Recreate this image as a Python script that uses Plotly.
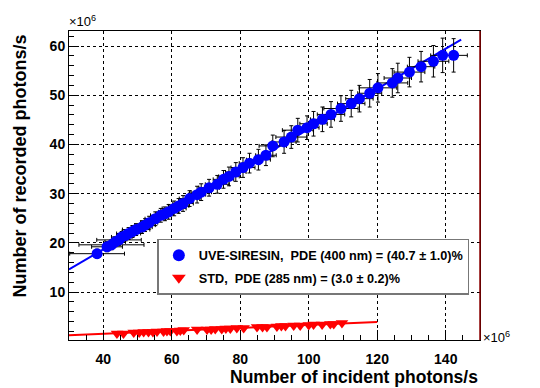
import plotly.graph_objects as go

# UVE-SIRESIN measurement (units of 1e6 photons/s)
uve_x = [38.2, 41.1, 42.4, 43.5, 44.6, 45.4, 46.5, 47.4, 48.5, 49.6,
         51.3, 52.2, 53.4, 55.2, 56.8, 58.0, 59.1, 60.7, 62.0, 63.3,
         65.2, 67.4, 68.6, 70.9, 73.3, 75.1, 76.7, 78.7, 80.8, 82.7,
         85.3, 87.5, 89.5, 92.8, 94.9, 96.8, 99.5, 101.4, 104.0, 106.5,
         109.4, 112.4, 114.8, 117.8, 120.2, 124.4, 126.0, 129.4, 132.8, 136.4,
         139.1, 142.3]
uve_y = [17.8, 19.2, 19.6, 20.2, 20.6, 21.2, 21.5, 21.9, 22.3, 22.7,
         23.2, 23.6, 24.1, 24.9, 25.6, 25.9, 26.3, 27.0, 27.5, 28.0,
         29.0, 29.8, 30.3, 31.2, 31.9, 32.9, 33.5, 34.4, 35.3, 36.2,
         36.9, 37.8, 39.7, 40.5, 41.5, 42.9, 43.4, 44.2, 45.1, 46.1,
         47.3, 48.3, 49.3, 50.4, 51.5, 52.5, 53.5, 54.7, 55.8, 56.9,
         58.1, 58.1]
uve_ex = [8.0, 4.5, 9.5, 3.0, 6.5, 3.0, 2.5, 3.5, 3.0, 4.0,
          3.0, 3.0, 2.5, 3.0, 3.0, 2.5, 3.0, 3.5, 3.0, 3.0,
          3.0, 2.5, 3.0, 3.0, 3.5, 3.0, 3.0, 3.0, 3.5, 3.0,
          3.5, 3.0, 4.0, 3.5, 4.5, 4.5, 3.5, 4.0, 3.5, 4.0,
          5.0, 4.0, 4.0, 3.5, 5.5, 4.5, 4.0, 4.5, 4.0, 4.5,
          3.5, 4.0]
uve_ey = [0.9, 1.0, 1.0, 1.0, 1.1, 1.1, 1.1, 1.2, 1.2, 1.2,
          1.3, 1.3, 1.3, 1.4, 1.4, 1.4, 1.5, 1.5, 1.5, 1.6,
          1.6, 1.7, 1.7, 1.7, 1.8, 1.8, 1.9, 1.9, 2.0, 2.0,
          2.1, 2.1, 2.2, 2.3, 2.3, 2.4, 2.4, 2.5, 2.5, 2.6,
          2.6, 2.7, 2.7, 2.8, 2.9, 2.9, 3.0, 3.0, 3.1, 3.2,
          3.5, 3.4]

# STD measurement
std_x = [44.0, 45.9, 48.9, 50.5, 51.8, 53.2, 54.5, 55.7, 57.6, 58.6,
         59.6, 61.5, 62.5, 63.5, 67.4, 70.3, 71.5, 72.7, 74.6, 75.8,
         77.1, 79.0, 81.0, 84.9, 86.5, 87.8, 90.7, 92.0, 93.2, 95.6,
         97.5, 100.0, 101.4, 103.9, 106.3, 107.3, 109.7]
std_y = [1.6, 1.6, 1.8, 1.8, 1.9, 1.9, 1.9, 2.0, 2.0, 2.1,
         2.1, 2.1, 2.2, 2.3, 2.4, 2.4, 2.4, 2.5, 2.5, 2.6,
         2.6, 2.7, 2.7, 2.9, 2.9, 2.9, 3.0, 3.1, 3.1, 3.2,
         3.2, 3.3, 3.4, 3.4, 3.5, 3.5, 3.7]

# linear fits (end points)
uve_fit_x = [30, 144.5]
uve_fit_y = [14.6, 61.3]
std_fit_x = [30, 120]
std_fit_y = [1.22, 3.92]

uve_label = "UVE-SIRESIN,\u00a0 PDE (400 nm) = (40.7 ± 1.0)%"
std_label = "STD,\u00a0 PDE (285 nm) = (3.0 ± 0.2)%"

FONT = "Liberation Sans, Arial, Helvetica, sans-serif"

fig = go.Figure()

fig.add_trace(go.Scatter(
    x=uve_fit_x, y=uve_fit_y, mode='lines',
    line=dict(color='#0000ff', width=2), showlegend=False, hoverinfo='skip'
))
fig.add_trace(go.Scatter(
    x=std_fit_x, y=std_fit_y, mode='lines',
    line=dict(color='#ff0000', width=2), showlegend=False, hoverinfo='skip'
))

fig.add_trace(go.Scatter(
    x=uve_x, y=uve_y, mode='markers', name=uve_label, legendgroup='a',
    marker=dict(symbol='circle', color='#0000ff', size=11),
    error_x=dict(type='data', array=uve_ex, color='black', thickness=1, width=2),
    error_y=dict(type='data', array=uve_ey, color='black', thickness=1, width=2),
))
fig.add_trace(go.Scatter(
    x=std_x, y=std_y, mode='markers', name=std_label, legendgroup='b',
    marker=dict(symbol='triangle-down', color='#ff0000', size=11),
))

fig.update_layout(
    width=540, height=388,
    margin=dict(l=69, r=60, t=31, b=48),
    plot_bgcolor='white', paper_bgcolor='white',
    font=dict(family=FONT, color='black'),
    legend=dict(
        x=0.215, y=0.327, xanchor='left', yanchor='top',
        bgcolor='white', bordercolor='#777777', borderwidth=1.5,
        font=dict(family=FONT, size=12.7, weight='bold', color='black'),
        tracegroupgap=3, itemsizing='constant',
    ),
)

axis_common = dict(
    showline=True, linecolor='black', linewidth=1, mirror=True,
    showgrid=True, gridcolor='black', gridwidth=1, griddash='dot',
    ticks='inside', tickcolor='black', tickwidth=1, ticklen=10,
    tickfont=dict(family=FONT, size=14, weight='bold', color='black'),
    zeroline=False,
)
fig.update_xaxes(range=[30, 150], tick0=40, dtick=20,
                 minor=dict(ticks='inside', ticklen=5, dtick=5, tick0=30,
                            tickcolor='black', showgrid=False),
                 ticklabelstandoff=6, **axis_common)
fig.update_yaxes(range=[0.26, 63.05], tick0=10, dtick=10,
                 minor=dict(ticks='inside', ticklen=5, dtick=2, tick0=0,
                            tickcolor='black', showgrid=False),
                 **axis_common)

# right frame edge drawn in dark red
fig.add_shape(type='line', xref='paper', yref='paper', x0=1, x1=1, y0=0, y1=1,
              line=dict(color='#8b0000', width=1.5))

# axis titles
fig.add_annotation(text="Number of incident photons/s", xref='paper', yref='paper',
                   x=1, y=-0.121, xanchor='right', yanchor='middle', showarrow=False,
                   font=dict(family=FONT, size=17.5, weight='bold', color='black'))
fig.add_annotation(text="Number of recorded photons/s", xref='paper', yref='paper',
                   x=-0.118, y=0.995, xanchor='center', yanchor='top', textangle=-90,
                   showarrow=False,
                   font=dict(family=FONT, size=18, weight='bold', color='black'))

# exponent labels
fig.add_annotation(text="×10<sup>6</sup>", xref='paper', yref='paper',
                   x=-0.004, y=1.0, xanchor='left', yanchor='bottom', showarrow=False,
                   font=dict(family=FONT, size=13, color='black'))
fig.add_annotation(text="×10<sup>6</sup>", xref='paper', yref='paper',
                   x=1.003, y=0.01, xanchor='left', yanchor='middle', showarrow=False,
                   font=dict(family=FONT, size=13, color='black'))

fig.write_html("out.html", config={'displayModeBar': False},
               post_script="document.body.style.margin='0';")
